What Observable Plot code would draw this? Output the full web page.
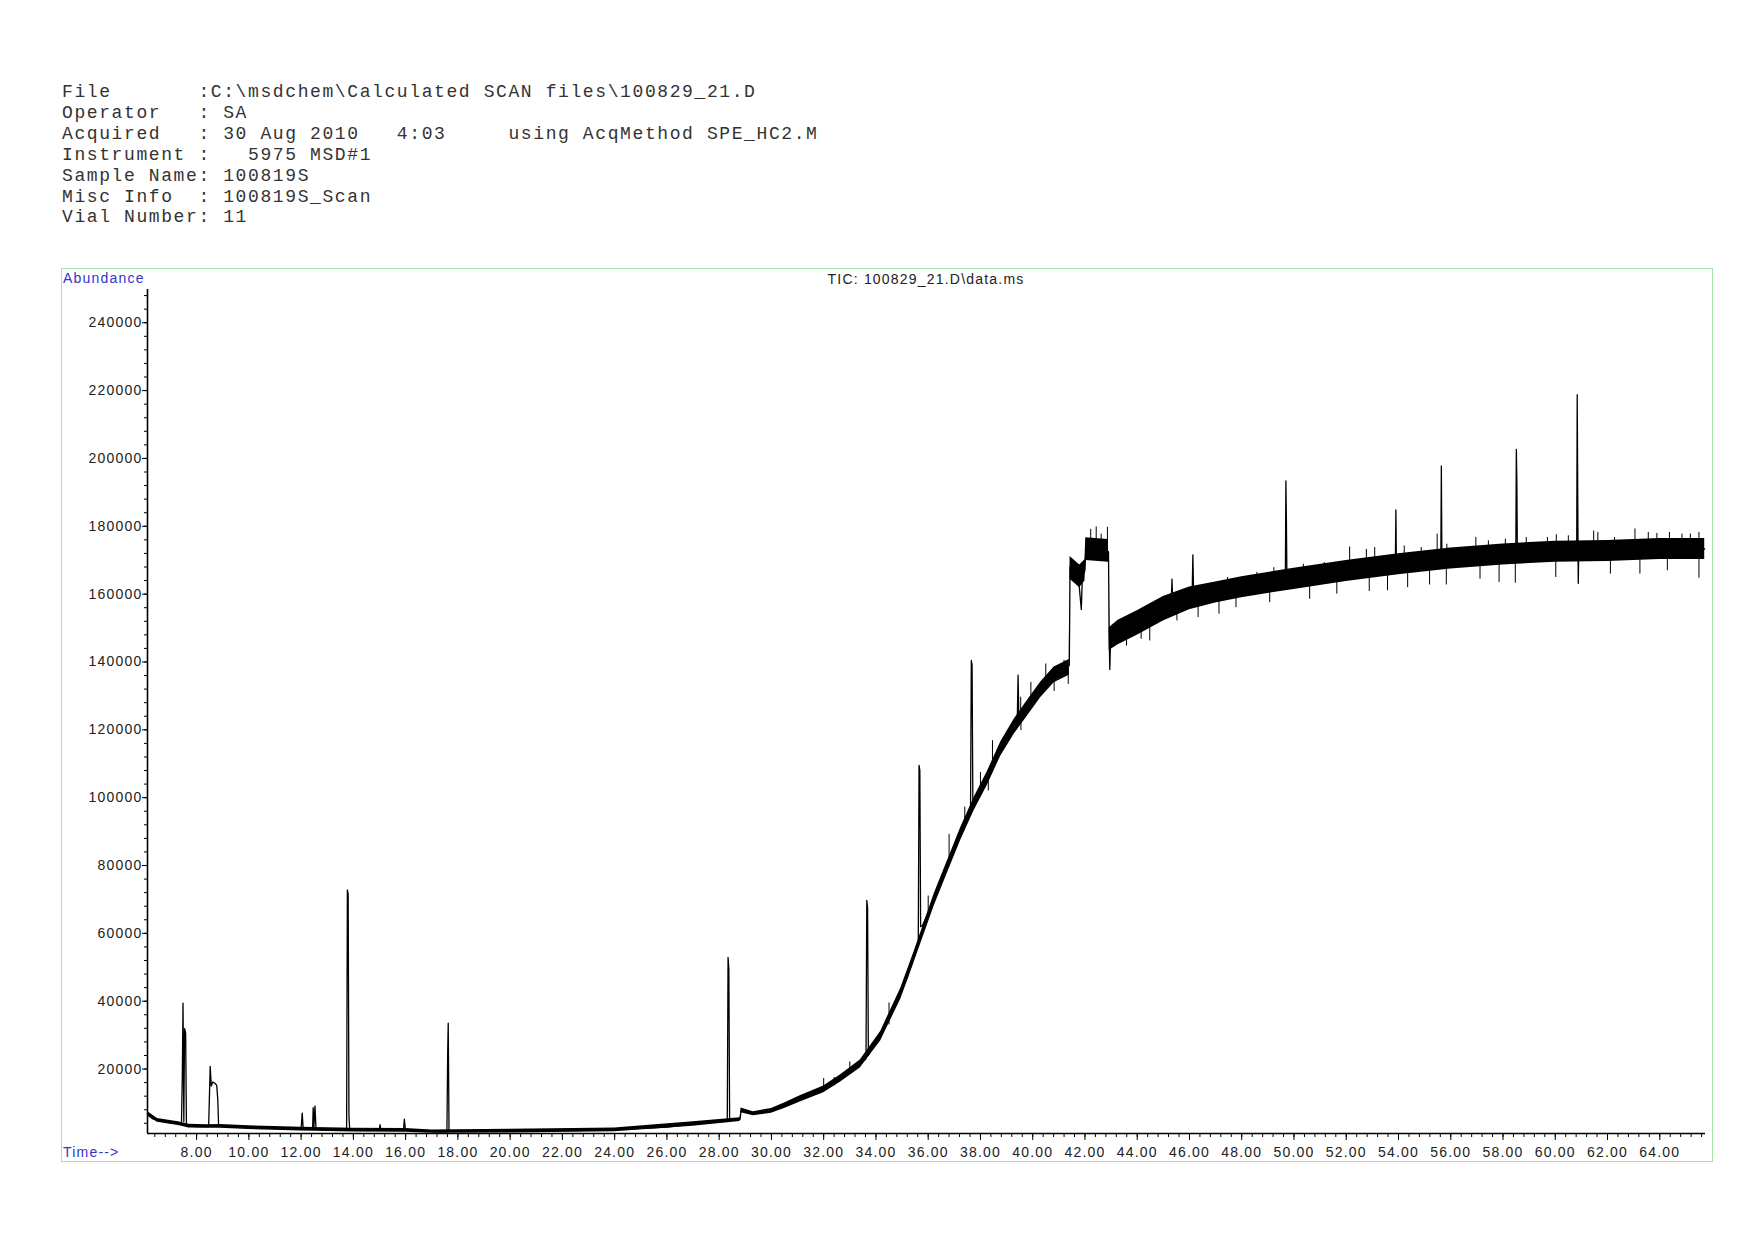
<!DOCTYPE html>
<html>
<head>
<meta charset="utf-8">
<script src="https://cdn.jsdelivr.net/npm/d3@7"></script>
<script src="https://cdn.jsdelivr.net/npm/@observablehq/plot@0.6"></script>
<style>
  html, body { margin: 0; padding: 0; background: #fff; }
  body { width: 1754px; height: 1240px; position: relative; overflow: hidden; }
  #hdr { position: absolute; left: 62px; top: 82px; margin: 0; font-family: "Liberation Mono", "DejaVu Sans Mono", monospace; font-size: 18px; letter-spacing: 1.6px; line-height: 20.9px; color: #333; white-space: pre; }
  #frame { position: absolute; left: 61px; top: 268px; width: 1650px; height: 892px; border: 1px solid #a4e4a4; }
  #chart { position: absolute; left: 62px; top: 269px; }
  .lbl { position: absolute; font-family: "Liberation Sans", Arial, sans-serif; font-size: 14px; letter-spacing: 1.2px; line-height: 16px; white-space: pre; }
</style>
</head>
<body>
<pre id="hdr">File       :C:\msdchem\Calculated SCAN files\100829_21.D
Operator   : SA
Acquired   : 30 Aug 2010   4:03     using AcqMethod SPE_HC2.M
Instrument :   5975 MSD#1
Sample Name: 100819S
Misc Info  : 100819S_Scan
Vial Number: 11</pre>
<div id="frame"></div>
<div id="chart"></div>
<div class="lbl" id="abund" style="left:63px; top:270px; color:#3434d0;">Abundance</div>
<div class="lbl" id="timelbl" style="left:63px; top:1144px; color:#3434d0;">Time--&gt;</div>
<div class="lbl" id="title" style="left:926px; top:271px; color:#222; transform:translateX(-50%);"></div>
<script>
// ---- data (time in minutes, abundance) ----
const chartTitle = "TIC: 100829_21.D\\data.ms";

// main TIC trace: [retention time, abundance]
const trace = [
  [6.12,6900],[6.2,6000],[6.3,5400],[6.5,4900],[6.7,4600],[6.9,4300],[7.1,4100],[7.3,3900],
  [7.42,3700],[7.45,17000],[7.48,39400],[7.51,4500],[7.54,31900],[7.58,30500],[7.61,3400],
  [7.8,3200],[8.0,3000],[8.2,3100],[8.46,3000],[8.52,20800],[8.56,15000],[8.62,16200],[8.7,15800],
  [8.77,15200],[8.81,11000],[8.84,3500],
  [9.0,3100],[9.3,2900],[9.6,2800],[10.0,2700],[10.4,2600],[10.8,2500],[11.2,2500],[11.6,2300],
  [12.0,2300],[12.04,7000],[12.08,2300],[12.3,2200],[12.44,2400],[12.46,8600],[12.49,3000],
  [12.53,9100],[12.57,2200],[12.8,2100],[13.2,2000],[13.6,1900],[13.74,1900],[13.77,72800],
  [13.8,71500],[13.83,6000],[13.86,2200],
  [14.2,2000],[14.6,2100],[14.99,2000],[15.02,3600],[15.05,2100],[15.6,2000],[15.92,2100],
  [15.95,5200],[15.99,2200],[16.3,1900],[16.7,1800],[17.0,1600],[17.3,1500],[17.58,1500],
  [17.61,25300],[17.63,33500],[17.66,1700],
  [18.0,1700],[18.5,1600],[19.0,1700],[19.5,1700],[20.0,1700],[20.5,1800],[21.0,1800],[21.5,1900],
  [22.0,1900],[22.5,2000],[23.0,2100],[23.5,2000],[24.0,2100],[24.5,2300],[25.0,2500],[25.5,2700],
  [26.0,2900],[26.5,3300],[27.0,3800],[27.5,4200],[28.0,4500],[28.31,4600],[28.34,52900],
  [28.37,49500],[28.40,5000],[28.6,5000],[28.8,5200],[28.84,7800],[29.1,7600],[29.3,6800],
  [29.6,7000],[30.0,7700],[30.5,9200],[31.1,11100],[31.6,12600],[32.0,14000],[32.3,15400],
  [32.65,17200],[33.0,19000],[33.4,21500],[33.62,23000],[33.65,69700],[33.68,67500],[33.71,24000],
  [33.8,25400],[34.18,29700],[34.57,35700],[34.95,42200],[35.2,47000],[35.46,53000],[35.62,57000],
  [35.65,109500],[35.68,108000],[35.71,62000],[35.78,62300],[36.23,69900],[36.74,79700],
  [37.25,89400],[37.5,93800],[37.62,95500],[37.65,140500],[37.68,139000],[37.71,97000],
  [37.76,98200],[38.27,105700],[38.78,114400],[39.29,120900],[39.41,123000],[39.44,136100],
  [39.47,123500],[39.8,126400],[40.31,131800],[40.82,136200],[41.33,138300],[41.40,139000],
  [41.43,168000],[41.6,166500],[41.75,165000],[41.83,158000],[41.86,155500],[41.9,165000],
  [42.0,167000],[42.03,173000],[42.3,173500],[42.6,173000],[42.9,172500],[42.93,146000],
  [42.95,137800],[42.98,146500],
  [43.27,148700],[43.6,150200],[43.91,151600],[44.3,153200],[44.72,154600],[45.1,156200],
  [45.3,157000],[45.33,164400],[45.36,157000],[45.52,157500],[45.9,158300],[46.1,158800],
  [46.13,171600],[46.16,159000],[46.33,159000],[46.7,159800],[47.13,160500],[47.5,161200],
  [47.94,161900],[48.3,162400],[48.74,162900],[49.2,163400],[49.55,163900],[49.67,164000],
  [49.69,193400],[49.71,181600],[49.73,164100],
  [50.35,164900],[50.8,165400],[51.16,165900],[51.6,166400],[51.97,166900],[52.4,167100],
  [52.77,167400],[53.2,167800],[53.58,168300],[53.88,168700],[53.9,184800],[53.92,168700],
  [54.38,169300],[54.8,169700],[55.19,170100],[55.62,170400],[55.64,197800],[55.66,170400],
  [55.99,170500],[56.4,170700],[56.8,171000],[57.2,171300],[57.6,171600],[58.0,171700],
  [58.49,171800],[58.51,202700],[58.53,192900],[58.55,171800],[58.8,172000],[59.21,172300],
  [59.6,172400],[60.02,172500],[60.4,172700],[60.82,173000],[60.84,218800],[60.86,189300],
  [60.88,163200],[60.9,173000],[61.2,172800],[61.63,172500],[62.0,172700],[62.44,173000],
  [62.8,173100],[63.24,173300],[63.6,173300],[64.05,173300],[64.5,173300],[64.85,173300],
  [65.3,173300],[65.72,173300]
];

// visible noise envelope of the trace: time, lower edge, upper edge
const bandTime = [6.12,6.5,7.3,7.7,8.4,8.9,10,12,14,16,17,20,24,27,28.8,28.84,29.3,30.0,30.5,31.1,32.0,32.65,33.4,34.18,34.95,35.46,36.23,36.74,37.25,37.76,38.27,38.78,39.29,39.8,40.31,40.82,41.40,41.43,41.8,42.0,42.03,42.9,42.93,43.27,44,45,46,47,48,49,50,52,54,56,58,60,62,64,65.72];
const bandLow  = [6200,4300,3350,2650,2550,2550,2150,1750,1450,1350,1050,1150,1550,3150,4550,7100,6200,7000,8400,10300,13000,16200,20300,28300,40600,51400,68100,77900,87500,96200,103700,112300,118700,124100,129500,133900,136100,164400,161900,163900,169900,169400,143400,145100,147900,152100,155400,157400,158900,160200,161400,163700,165700,167400,168600,169400,169600,170200,170200];
const bandHigh = [7450,5450,4450,3750,3550,3650,3250,2850,2550,2450,2050,2250,2650,4450,5650,8500,7400,8400,10000,12100,15000,18300,22700,31100,43800,54600,71700,81500,91300,100100,107800,116500,123100,128700,134100,138500,140700,171100,168600,170100,176600,176100,150100,152300,155100,159300,162100,163600,165100,166400,167600,169900,171900,173600,174800,175600,175800,176400,176400];

// isolated noise whiskers: time, low end, high end
const whiskerTime = [32.0,32.4,33.0,34.5,36.0,36.8,37.4,38.0,38.3,38.46,39.54,39.55,39.93,40.5,40.82,41.2,41.36,
  42.22,42.43,42.62,42.86,43.27,43.59,44.15,44.48,44.88,45.52,46.33,47.13,47.46,47.78,47.8,48.58,49.07,49.23,
  50.36,50.6,51.16,51.64,52.13,52.77,52.88,53.09,53.58,54.22,54.35,54.87,55.19,55.48,55.83,55.85,56.96,57.12,
  57.44,57.85,58.09,58.47,58.89,59.70,60.02,60.04,60.50,61.47,61.63,62.11,62.27,63.05,63.24,63.56,63.89,64.29,
  64.37,64.85,65.17,65.5];
const whiskerLow  = [13500,15000,18500,33000,65500,80000,91500,101500,102000,109000,124000,119800,127000,133000,131300,136500,133400,
  173000,173000,172800,173000,146200,144700,146700,146200,155000,152100,153100,154100,160500,156000,161400,162700,157500,163300,
  164900,158500,165900,160000,167000,167400,160800,167700,161000,169100,161900,169800,162700,170000,162700,170400,171100,164400,
  171500,163400,171700,163200,172000,172400,164900,172500,172800,172600,172500,165900,172900,173300,165900,173300,173300,166900,
  173300,173300,173300,164700];
const whiskerHigh = [17200,17500,22100,39500,71000,89200,97200,107400,106000,116800,129600,124500,134000,139400,136200,140500,139000,
  179100,179800,177700,179700,148700,150200,151600,153800,158000,157500,159000,160500,164900,161900,163900,166400,163200,167800,
  168800,165000,169300,166400,173900,173200,167500,173700,168300,174200,169300,173700,170100,177700,170400,174700,176700,171300,
  175700,171600,176200,171800,176700,176700,172500,177500,177200,178600,178200,172700,176700,179200,173300,178200,177900,173300,
  178200,177700,177700,178200];

const xMajorTicks = [8,10,12,14,16,18,20,22,24,26,28,30,32,34,36,38,40,42,44,46,48,50,52,54,56,58,60,62,64];
const yMajorTicks = [20000,40000,60000,80000,100000,120000,140000,160000,180000,200000,220000,240000];
const xMinorStep = 0.4;
const yMinorStep = 4000;
const timeDomain = [6.12, 65.75];
const abundanceDomain = [1000, 249800];

// ---- build ----
document.getElementById("title").textContent = chartTitle;

const traceRows = trace.map(([t, v]) => ({t, v}));
const bandRows = bandTime.map((t, i) => ({t, lo: bandLow[i], hi: bandHigh[i]}));
const whiskerRows = whiskerTime.map((t, i) => ({t, lo: whiskerLow[i], hi: whiskerHigh[i]}));
const xMinorTicks = d3.range(6.4, 65.7, xMinorStep).map(d => +d.toFixed(1));
const yMinorTicks = d3.range(4000, 249000, yMinorStep);

const chart = Plot.plot({
  width: 1651,
  height: 893,
  marginLeft: 85,
  marginRight: 8,
  marginTop: 20,
  marginBottom: 29,
  x: {domain: timeDomain},
  y: {domain: abundanceDomain},
  style: {
    fontFamily: "'Liberation Sans', Arial, sans-serif",
    fontSize: "14px",
    letterSpacing: "1.2px",
    color: "#222",
    background: "transparent",
    overflow: "visible"
  },
  marks: [
    Plot.areaY(bandRows, {x: "t", y1: "lo", y2: "hi", fill: "#000"}),
    Plot.line(traceRows, {x: "t", y: "v", stroke: "#000", strokeWidth: 1.3}),
    Plot.ruleX(whiskerRows, {x: "t", y1: "lo", y2: "hi", stroke: "#000", strokeWidth: 1}),
    Plot.ruleX([timeDomain[0]], {stroke: "#000", strokeWidth: 1.6}),
    Plot.ruleY([abundanceDomain[0]], {stroke: "#000", strokeWidth: 1.6}),
    Plot.axisX({ticks: xMinorTicks, tickSize: 4, tickFormat: () => "", label: null, stroke: "#000"}),
    Plot.axisX({ticks: xMajorTicks, tickSize: 7, tickPadding: 7, tickFormat: d3.format(".2f"), label: null, stroke: "#000"}),
    Plot.axisY({ticks: yMinorTicks, tickSize: 3, tickFormat: () => "", label: null, stroke: "#000"}),
    Plot.axisY({ticks: yMajorTicks, tickSize: 5, tickPadding: 0, tickFormat: d => String(d), label: null, stroke: "#000"})
  ]
});
document.getElementById("chart").appendChild(chart);
</script>
</body>
</html>
